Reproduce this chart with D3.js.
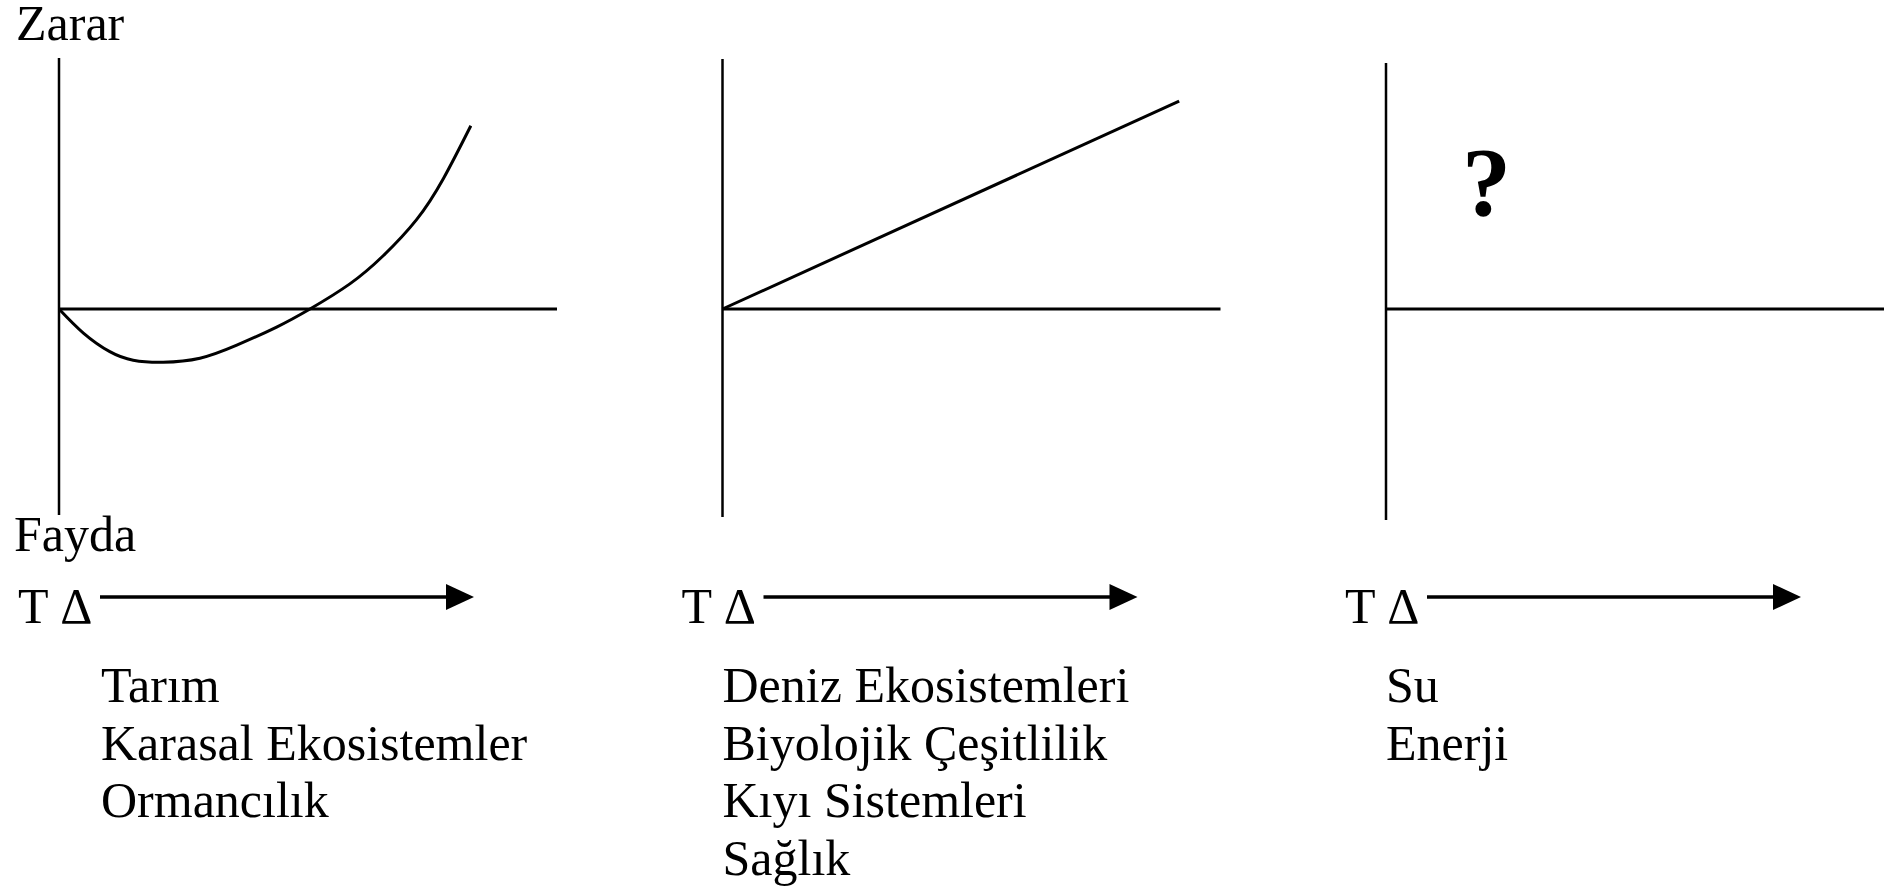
<!DOCTYPE html>
<html>
<head>
<meta charset="utf-8">
<script src="https://cdn.jsdelivr.net/npm/d3@7"></script>
<style>
    html, body { margin: 0; padding: 0; background: #fff; }
    text { font-family: "Liberation Serif", "Times New Roman", serif; fill: #000; }
</style>
</head>
<body>
<svg id="chart" width="1885" height="890"></svg>
<script>
// curve of the first panel (Tarım ...), axis units
var curveX = [ 0, 0.49, 1.02, 1.49, 2.09, 2.83, 3.57, 4.37, 5.04, 5.84, 6.51, 7.18, 7.72, 8.27 ];
var curveY = [ 0, -0.48, -0.85, -1.02, -1.06, -0.98, -0.72, -0.36, 0, 0.5, 1.06, 1.78, 2.6, 3.65 ];

// straight line of the second panel
var lineX = [ 0, 9.17 ];
var lineY = [ 0, 4.14 ];

var yTopLabel = "Zarar";
var yBottomLabel = "Fayda";
var xLabel = "T Δ";
var unknownMark = "?";

var sectorLabels = [
    [ "Tarım", "Karasal Ekosistemler", "Ormancılık" ],
    [ "Deniz Ekosistemleri", "Biyolojik Çeşitlilik", "Kıyı Sistemleri", "Sağlık" ],
    [ "Su", "Enerji" ]
];

( function() {
    var svg = d3.select( "#chart" );
    var step = 663.5;
    var originY = 309;
    var axisTop = [ 58, 59, 63 ];
    var axisBottom = [ 515, 517, 520 ];
    var labelShift = [ 42, 0, 0 ];

    var toPoints = function( xs, ys ) {
        return xs.map( function( d, i ) {
            return { "x": d, "y": ys[ i ] };
        } );
    };

    var series = [ toPoints( curveX, curveY ), toPoints( lineX, lineY ), null ];

    sectorLabels.forEach( function( labels, i ) {
        var ox = 59 + i * step;
        var x = d3.scaleLinear().domain( [ 0, 10 ] ).range( [ ox, ox + 498 ] );
        var y = d3.scaleLinear().domain( [ 0, 5 ] ).range( [ originY, originY - 251 ] );
        var g = svg.append( "g" ).attr( "class", "panel" );

        // axes
        g.append( "line" )
            .attr( "x1", x( 0 ) ).attr( "x2", x( 0 ) )
            .attr( "y1", axisTop[ i ] ).attr( "y2", axisBottom[ i ] )
            .attr( "stroke", "#000" ).attr( "stroke-width", 2.5 );
        g.append( "line" )
            .attr( "x1", x( 0 ) ).attr( "x2", x( 10 ) )
            .attr( "y1", y( 0 ) ).attr( "y2", y( 0 ) )
            .attr( "stroke", "#000" ).attr( "stroke-width", 3 );

        if ( series[ i ] ) {
            var line = d3.line()
                .x( function( d ) { return x( d.x ); } )
                .y( function( d ) { return y( d.y ); } )
                .curve( d3.curveNatural );
            g.append( "path" )
                .datum( series[ i ] )
                .attr( "d", line )
                .attr( "fill", "none" )
                .attr( "stroke", "#000" )
                .attr( "stroke-width", 3 );
        } else {
            g.append( "text" )
                .attr( "x", x( 0 ) + 76 )
                .attr( "y", 215 )
                .attr( "font-size", 98 )
                .attr( "font-weight", "bold" )
                .text( unknownMark );
        }

        // temperature arrow
        var tx = ox - 41;
        g.append( "text" )
            .attr( "x", tx )
            .attr( "y", 623 )
            .attr( "font-size", 50 )
            .text( xLabel );
        g.append( "line" )
            .attr( "x1", tx + 82 ).attr( "x2", tx + 430 )
            .attr( "y1", 597 ).attr( "y2", 597 )
            .attr( "stroke", "#000" ).attr( "stroke-width", 3.5 );
        g.append( "polygon" )
            .attr( "points", [ [ tx + 428, 584 ], [ tx + 456, 597 ], [ tx + 428, 610 ] ].map( function( p ) {
                return p.join( "," );
            } ).join( " " ) )
            .attr( "fill", "#000" );

        // sector names
        g.selectAll( "text.sector" )
            .data( labels )
            .enter()
            .append( "text" )
            .attr( "class", "sector" )
            .attr( "x", ox + labelShift[ i ] )
            .attr( "y", function( d, j ) { return 702 + j * 57.5; } )
            .attr( "font-size", 50 )
            .text( function( d ) { return d; } );
    } );

    svg.append( "text" )
        .attr( "x", 16 )
        .attr( "y", 40 )
        .attr( "font-size", 50 )
        .text( yTopLabel );

    svg.append( "text" )
        .attr( "x", 14 )
        .attr( "y", 551 )
        .attr( "font-size", 50 )
        .text( yBottomLabel );
} )();
</script>
</body>
</html>
